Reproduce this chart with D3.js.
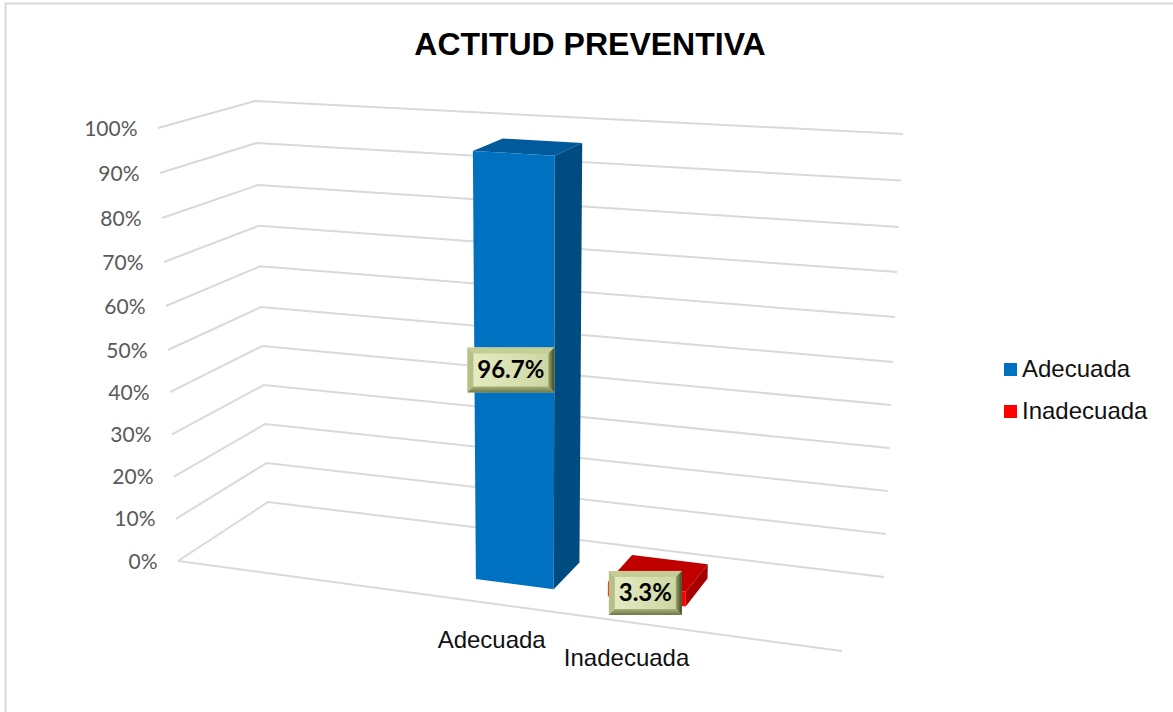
<!DOCTYPE html>
<html>
<head>
<meta charset="utf-8">
<script src="https://cdn.jsdelivr.net/npm/d3@7"></script>
<style>
  html, body { margin: 0; padding: 0; background: #fff; overflow: hidden; }
  svg { display: block; }
  .arial { font-family: "Liberation Sans", Arial, sans-serif; }
  .calibri { font-family: Lato, "Open Sans", sans-serif; }
</style>
</head>
<body>
<svg></svg>
<script>
var width = 1173;
var height = 712;

var title = "ACTITUD PREVENTIVA";
var categories = ["Adecuada", "Inadecuada"];
var values = [96.7, 3.3];
var ticks = [0, 10, 20, 30, 40, 50, 60, 70, 80, 90, 100];

var frontColors = ["#0070c0", "#ff0000"];
var topColors = ["#005a9c", "#c00000"];
var sideColors = ["#004b80", "#a80000"];

var svg = d3.select("svg")
  .attr("width", width)
  .attr("height", height);

// the four upright edges of the 3d box, value -> pixel
var pct = [0, 50, 80, 100];
var corners = {
  frontLeft:  { x: d3.scaleLinear().domain(pct).range([178, 168, 162, 158]), y: d3.scaleLinear().domain(pct).range([561, 350, 218, 128]) },
  backLeft:   { x: d3.scaleLinear().domain(pct).range([268, 261, 258, 255]), y: d3.scaleLinear().domain(pct).range([502, 307, 185, 101]) },
  backRight:  { x: d3.scaleLinear().domain(pct).range([884, 893, 899, 903]), y: d3.scaleLinear().domain(pct).range([577, 362, 227, 134]) },
  frontRight: { x: d3.scaleLinear().domain(pct).range([842, 850, 855, 859]), y: d3.scaleLinear().domain(pct).range([651, 416, 269, 168]) }
};

// u goes along the categories, v goes into the depth, value goes up
function project(u, v, value) {
  function mix(axis) {
    var front = corners.frontLeft[axis](value) * (1 - u) + corners.frontRight[axis](value) * u;
    var back = corners.backLeft[axis](value) * (1 - u) + corners.backRight[axis](value) * u;
    return front * (1 - v) + back * v;
  }
  return [mix("x"), mix("y")];
}

var uScale = d3.scaleBand()
  .domain(categories)
  .range([0.417, 0.74])
  .paddingInner(0.41);

var vFront = 0.3;
var vBack = 0.7;

var line = d3.line();

// border
svg.append("path")
  .attr("d", "M5.5," + height + "V3.5H" + width)
  .attr("fill", "none")
  .attr("stroke", "#d9d9d9")
  .attr("stroke-width", 2);

// gridlines
svg.append("g")
  .selectAll("path")
  .data(ticks)
  .enter()
  .append("path")
    .attr("d", d => line([project(0, 0, d), project(0, 1, d), project(1, 1, d)]))
    .attr("fill", "none")
    .attr("stroke", "#d9d9d9")
    .attr("stroke-width", 2);

svg.append("path")
  .attr("d", line([project(0, 0, 0), project(1, 0, 0)]))
  .attr("fill", "none")
  .attr("stroke", "#d9d9d9")
  .attr("stroke-width", 2);

// tick labels
svg.append("g")
  .selectAll("text")
  .data(ticks)
  .enter()
  .append("text")
    .classed("calibri", true)
    .attr("x", d => project(0, 0, d)[0] - 20.5)
    .attr("y", d => project(0, 0, d)[1] + 7.5)
    .attr("text-anchor", "end")
    .attr("font-size", 21)
    .attr("fill", "#595959")
    .text(d => d + "%");

// bars
var bars = svg.append("g")
  .selectAll("g")
  .data(categories)
  .enter()
  .append("g");

bars.each(function(cat, i) {
  var g = d3.select(this);
  var u0 = uScale(cat);
  var u1 = u0 + uScale.bandwidth();
  var val = values[i];

  g.append("path")
    .attr("fill", topColors[i])
    .attr("d", line([project(u0, vFront, val), project(u1, vFront, val), project(u1, vBack, val), project(u0, vBack, val)]) + "Z");
  g.append("path")
    .attr("fill", sideColors[i])
    .attr("d", line([project(u1, vFront, 0), project(u1, vFront, val), project(u1, vBack, val), project(u1, vBack, 0)]) + "Z");
  g.append("path")
    .attr("fill", frontColors[i])
    .attr("d", line([project(u0, vFront, 0), project(u1, vFront, 0), project(u1, vFront, val), project(u0, vFront, val)]) + "Z");
});

// category labels
svg.append("g")
  .selectAll("text")
  .data(categories)
  .enter()
  .append("text")
    .classed("arial", true)
    .attr("x", d => project(uScale(d) + uScale.bandwidth() / 2, 0, 0)[0] - 3)
    .attr("y", d => project(uScale(d) + uScale.bandwidth() / 2, 0, 0)[1] + 44)
    .attr("text-anchor", "middle")
    .attr("font-size", 24)
    .attr("fill", "#111")
    .text(d => d);

// data labels, bevelled boxes
var defs = svg.append("defs");
var grad = defs.append("linearGradient").attr("id", "labelFill");
grad.append("stop").attr("offset", "0%").attr("stop-color", "#e6ecc4");
grad.append("stop").attr("offset", "100%").attr("stop-color", "#cbd5a0");

var gradRight = defs.append("linearGradient").attr("id", "bevelRight");
gradRight.append("stop").attr("offset", "0%").attr("stop-color", "#9aa56c");
gradRight.append("stop").attr("offset", "100%").attr("stop-color", "#3f4522");

var gradBottom = defs.append("linearGradient").attr("id", "bevelBottom").attr("x2", 0).attr("y2", 1);
gradBottom.append("stop").attr("offset", "0%").attr("stop-color", "#a8b27c");
gradBottom.append("stop").attr("offset", "100%").attr("stop-color", "#6f7848");

function drawLabel(cx, cy, w, h, txt) {
  var b = 6;
  var x0 = cx - w / 2, x1 = cx + w / 2, y0 = cy - h / 2, y1 = cy + h / 2;
  var g = svg.append("g");
  g.append("rect").attr("x", x0).attr("y", y0).attr("width", w).attr("height", h).attr("fill", "url(#labelFill)");
  g.append("path").attr("fill", "#c3cd94").attr("d", line([[x0, y0], [x1, y0], [x1 - b, y0 + b], [x0 + b, y0 + b]]) + "Z");
  g.append("path").attr("fill", "#b4c086").attr("d", line([[x0, y0], [x0 + b, y0 + b], [x0 + b, y1 - b], [x0, y1]]) + "Z");
  g.append("path").attr("fill", "url(#bevelRight)").attr("d", line([[x1, y0], [x1, y1], [x1 - b, y1 - b], [x1 - b, y0 + b]]) + "Z");
  g.append("path").attr("fill", "url(#bevelBottom)").attr("d", line([[x0, y1], [x1, y1], [x1 - b, y1 - b], [x0 + b, y1 - b]]) + "Z");
  g.append("text")
    .classed("calibri", true)
    .attr("x", cx)
    .attr("y", cy + 8.5)
    .attr("text-anchor", "middle")
    .attr("font-size", 24)
    .attr("font-weight", 700)
    .attr("fill", "#000")
    .text(txt);
}

categories.forEach(function(cat, i) {
  var p = project(uScale(cat) + uScale.bandwidth() / 2, 0.5, values[i] / 2);
  var tall = values[i] > 50;
  drawLabel(p[0] + (tall ? -17 : -13), p[1] + (tall ? 5.5 : 12.5), tall ? 87 : 73, tall ? 45 : 44, values[i].toFixed(1) + "%");
});

// title
svg.append("text")
  .classed("arial", true)
  .attr("x", 590)
  .attr("y", 54.5)
  .attr("text-anchor", "middle")
  .attr("font-size", 32)
  .attr("font-weight", 700)
  .attr("fill", "#000")
  .text(title);

// legend
var legend = svg.append("g")
  .selectAll("g")
  .data(categories)
  .enter()
  .append("g")
    .attr("transform", (d, i) => "translate(1004," + (363 + i * 42) + ")");

legend.append("rect")
  .attr("width", 13)
  .attr("height", 13)
  .attr("fill", (d, i) => frontColors[i]);

legend.append("text")
  .classed("arial", true)
  .attr("x", 18)
  .attr("y", 14)
  .attr("font-size", 24)
  .attr("fill", "#111")
  .text(d => d);
</script>
</body>
</html>
